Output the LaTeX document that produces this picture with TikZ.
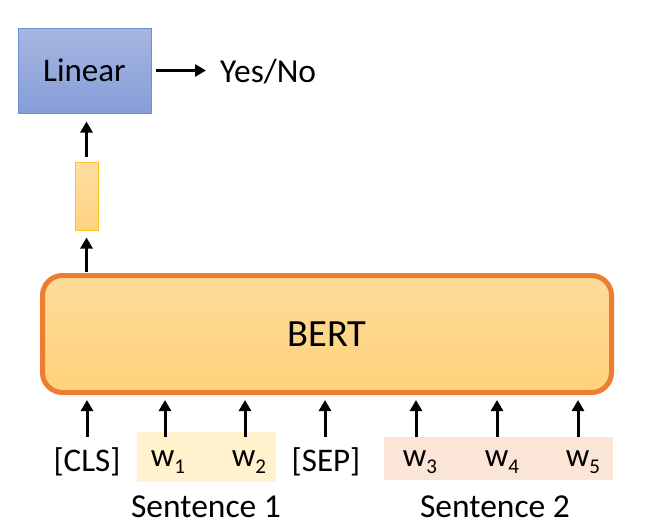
\documentclass[tikz,border=0pt]{standalone}
\usepackage{fontspec}
\setmainfont{Carlito}
\usetikzlibrary{arrows.meta}
\definecolor{linborder}{RGB}{111,143,211}
\definecolor{bertborder}{RGB}{237,125,49}
\definecolor{vecborder}{RGB}{255,196,40}
\definecolor{sOne}{RGB}{255,242,204}
\definecolor{sTwo}{RGB}{251,229,214}
\tikzset{
  arr/.style={line width=3pt, -{Triangle[width=12pt,length=11pt]}},
  tok/.style={inner sep=0pt, minimum height=50pt, font=\fontsize{33}{33}\selectfont},
  lab/.style={inner sep=0pt, font=\fontsize{33.5}{33.5}\selectfont},
}
\newcommand{\wsub}[1]{w\raisebox{-7pt}{\fontsize{21}{21}\selectfont #1}}
\begin{document}
\begin{tikzpicture}[x=1pt,y=-1pt]
\useasboundingbox (0,0) rectangle (668,528);
% linear
\node[draw=linborder, line width=1pt, top color={rgb,255:red,167;green,182;blue,225},
      bottom color={rgb,255:red,133;green,157;blue,215},
      minimum width=133pt, minimum height=85pt, inner sep=0pt,
      font=\fontsize{33}{33}\selectfont] (linear) at (84.5,70.5) {Linear};
\node[lab, anchor=west] (yesno) at (220,72) {Yes/No};
\draw[arr, shorten <=4pt, shorten >=14pt] (linear.east) -- (linear.east -| yesno.west);
% vector
\node[draw=vecborder, line width=1pt, top color={rgb,255:red,255;green,222;blue,162},
      bottom color={rgb,255:red,255;green,210;blue,128},
      minimum width=23pt, minimum height=68pt, inner sep=0pt] (vec) at (86.5,196) {};
\draw[arr, shorten <=5pt, shorten >=8pt] (vec.north) -- (vec.north |- linear.south);
% BERT
\node[draw=bertborder, line width=5pt, rounded corners=20pt,
      top color={rgb,255:red,253;green,219;blue,153},
      bottom color={rgb,255:red,255;green,210;blue,122},
      minimum width=569pt, minimum height=117pt, inner sep=0pt,
      font=\fontsize{38.5}{38.5}\selectfont] (bert) at (327,334) {BERT};
\draw[arr, shorten <=1pt, shorten >=7pt] (bert.north -| vec.south) -- (vec.south);
% sentence backgrounds
\node[fill=sOne, minimum width=139pt, minimum height=50pt, inner sep=0pt] (bgone) at (206.5,457) {};
\node[fill=sTwo, minimum width=229pt, minimum height=43pt, inner sep=0pt] (bgtwo) at (498.5,458.5) {};
% tokens
\node[tok] (cls) at (87,462) {[CLS]};
\node[tok] (w1) at (168,462) {\wsub{1}};
\node[tok] (w2) at (249,462) {\wsub{2}};
\node[tok] (sep) at (326,462) {[SEP]};
\node[tok] (w3) at (420,462) {\wsub{3}};
\node[tok] (w4) at (502,462) {\wsub{4}};
\node[tok] (w5) at (583,462) {\wsub{5}};
\foreach \t/\x in {cls/87,w1/165,w2/245,sep/325,w3/416,w4/497,w5/578}{
  \draw[arr, shorten >=5pt] (\x,437) -- (\x,437 |- bert.south);
}
\node[lab] (s1) at (206,507) {Sentence 1};
\node[lab] (s2) at (495,507) {Sentence 2};
\end{tikzpicture}
\end{document}
